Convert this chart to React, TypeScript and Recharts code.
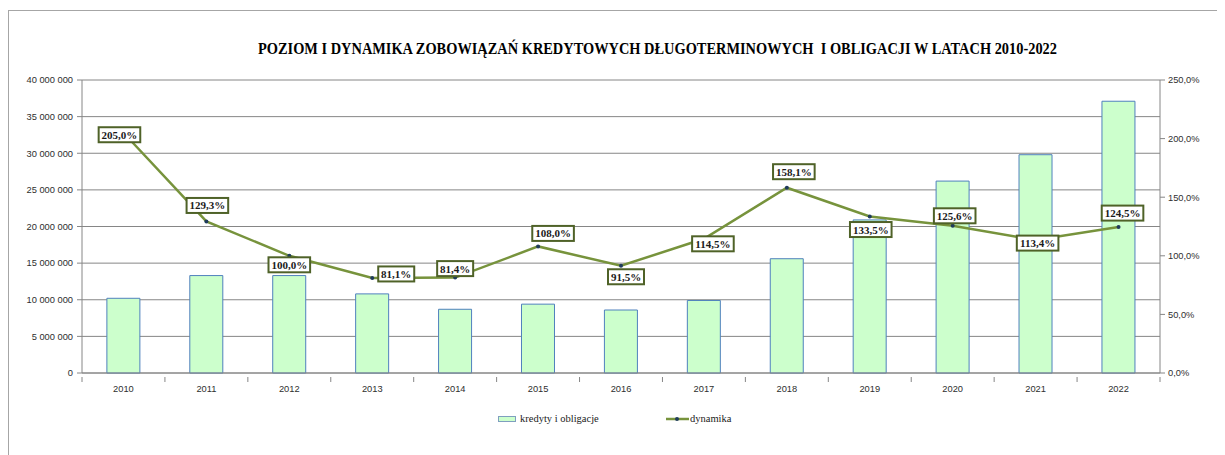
import React from "react";
import {
  ComposedChart,
  Bar,
  Line,
  XAxis,
  YAxis,
  CartesianGrid,
  LabelList,
} from "recharts";

const years = ["2010", "2011", "2012", "2013", "2014", "2015", "2016", "2017", "2018", "2019", "2020", "2021", "2022"];
const kredyty = [10200000, 13300000, 13300000, 10800000, 8700000, 9400000, 8600000, 9900000, 15600000, 20900000, 26200000, 29800000, 37100000];
const dynamika = [205.0, 129.3, 100.0, 81.1, 81.4, 108.0, 91.5, 114.5, 158.1, 133.5, 125.6, 113.4, 124.5];
const leftTicks = [0, 5000000, 10000000, 15000000, 20000000, 25000000, 30000000, 35000000, 40000000];
const rightTicks = [0, 50, 100, 150, 200, 250];
const title = "POZIOM I DYNAMIKA ZOBOWIĄZAŃ KREDYTOWYCH DŁUGOTERMINOWYCH  I OBLIGACJI W LATACH 2010-2022";

// label placement offsets (style only), relative to each point
const labelOffsets: [number, number][] = [
  [-4, 2], [1, -16], [0, 9], [24, -4], [0, -9], [15, -13], [5, 11],
  [9, 5], [7, -16], [1, 13], [2, -10], [2, 3], [4, -14],
];

const data = years.map((y, i) => ({ year: y, kredyty: kredyty[i], dynamika: dynamika[i] }));

const W = 1217;
const H = 447;
const LEFT_W = 74;
const RIGHT_W = 65;
const BAND = (W - LEFT_W - RIGHT_W) / years.length;

const AXIS_COLOR = "#868686";
const TEXT_COLOR = "#2e2e2e";
const tickFont = { fontFamily: "Liberation Sans, Arial, sans-serif", fontSize: 9.3, fill: TEXT_COLOR, fontWeight: 400 };

const fmtLeft = (v: number) => String(v).replace(/\B(?=(\d{3})+(?!\d))/g, " ");
const fmtPct = (v: number) => v.toFixed(1).replace(".", ",") + "%";

const XTick = (props: any) => {
  const { x, y, payload, index } = props;
  return (
    <g>
      <line x1={x + BAND / 2} x2={x + BAND / 2} y1={y - 4} y2={y + 1} stroke={AXIS_COLOR} />
      {index === 0 && <line x1={x - BAND / 2} x2={x - BAND / 2} y1={y - 4} y2={y + 1} stroke={AXIS_COLOR} />}
      <text x={x} y={y + 11} textAnchor="middle" {...tickFont}>
        {payload.value}
      </text>
    </g>
  );
};

const PctLabel = (props: any) => {
  const { x, y, value, index } = props;
  const [dx, dy] = labelOffsets[index] || [0, 0];
  const text = fmtPct(value);
  const w = text.length * 5.6 + 8;
  const h = 15;
  const cx = x + dx;
  const cy = y + dy;
  return (
    <g>
      <rect x={cx - w / 2} y={cy - h / 2} width={w} height={h} fill="#ffffff" stroke="#4f6228" strokeWidth={2} />
      <text
        x={cx}
        y={cy + 4}
        textAnchor="middle"
        fontFamily="Liberation Serif, serif"
        fontWeight={700}
        fontSize={11}
        fill="#1a1a1a"
      >
        {text}
      </text>
    </g>
  );
};

const Dot = (props: any) => {
  const { cx, cy } = props;
  return <circle cx={cx} cy={cy} r={2} fill="#1f3b5c" stroke="none" />;
};

export default function App() {
  return (
    <div style={{ position: "relative", width: W, height: H }}>
      <div
        style={{
          position: "absolute",
          left: 0,
          top: 2,
          width: 1400,
          height: 600,
          borderLeft: "1px solid #a6a6a6",
          borderTop: "1px solid #a6a6a6",
          boxSizing: "border-box",
        }}
      />
      <svg style={{ position: "absolute", left: 0, top: 0 }} width={W} height={70}>
        <text
          x={250}
          y={46}
          fontFamily="Liberation Serif, serif"
          fontWeight={700}
          fontSize={17}
          fill="#000"
          textLength={799}
          lengthAdjust="spacingAndGlyphs"
          style={{ whiteSpace: "pre" }}
        >
          {title}
        </text>
      </svg>
      <div style={{ position: "absolute", left: 0, top: 0 }}>
        <ComposedChart
          width={W}
          height={H}
          data={data}
          margin={{ top: 72, right: 0, bottom: 52, left: 0 }}
          barCategoryGap="30%"
        >
          <CartesianGrid vertical={false} stroke={AXIS_COLOR} strokeDasharray="" yAxisId="left" />
          <XAxis
            dataKey="year"
            height={30}
            tickLine={false}
            axisLine={{ stroke: AXIS_COLOR }}
            tick={<XTick />}
            interval={0}
          />
          <YAxis
            yAxisId="left"
            orientation="left"
            width={LEFT_W}
            domain={[0, 40000000]}
            ticks={leftTicks}
            tickFormatter={fmtLeft}
            tickSize={5}
            tickMargin={4}
            tick={tickFont}
            tickLine={{ stroke: AXIS_COLOR }}
            axisLine={{ stroke: AXIS_COLOR }}
            interval={0}
          />
          <YAxis
            yAxisId="right"
            orientation="right"
            width={RIGHT_W}
            domain={[0, 250]}
            ticks={rightTicks}
            tickFormatter={fmtPct}
            tickSize={5}
            tickMargin={3}
            tick={tickFont}
            tickLine={{ stroke: AXIS_COLOR }}
            axisLine={{ stroke: AXIS_COLOR }}
            interval={0}
          />
          <Bar
            yAxisId="left"
            dataKey="kredyty"
            fill="#ccffcc"
            stroke="#4f81bd"
            strokeWidth={1}
            isAnimationActive={false}
          />
          <Line
            yAxisId="right"
            dataKey="dynamika"
            stroke="#77933c"
            strokeWidth={2.5}
            dot={<Dot />}
            activeDot={false}
            isAnimationActive={false}
          >
            <LabelList dataKey="dynamika" content={<PctLabel />} />
          </Line>
        </ComposedChart>
      </div>
      <div
        style={{
          position: "absolute",
          left: 490,
          top: 405,
          display: "flex",
          alignItems: "center",
          fontFamily: "Liberation Serif, serif",
          fontSize: 10.5,
          color: "#1a1a1a",
          whiteSpace: "nowrap",
        }}
      >
        <svg width={18} height={8} style={{ marginRight: 4 }}>
          <rect x={0.5} y={1.5} width={17} height={5} fill="#ccffcc" stroke="#7f9fbf" />
        </svg>
        <span style={{ display: "inline-block", width: 78 }}>kredyty i obligacje</span>
        <svg width={23} height={8} style={{ marginLeft: 68, marginRight: 1 }}>
          <line x1={0} x2={23} y1={4} y2={4} stroke="#77933c" strokeWidth={2.5} />
          <circle cx={11} cy={4} r={2} fill="#1f3b5c" />
        </svg>
        <span>dynamika</span>
      </div>
    </div>
  );
}
